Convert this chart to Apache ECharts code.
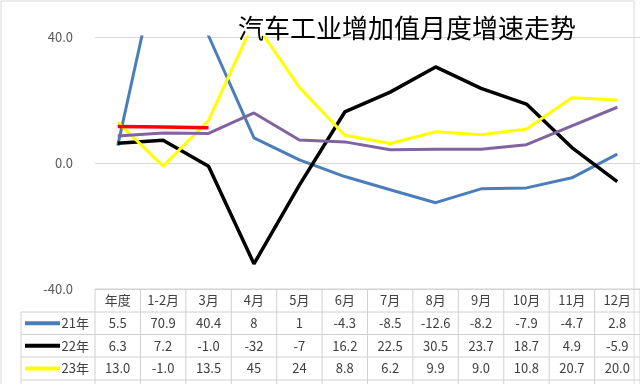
<!DOCTYPE html>
<html><head><meta charset="utf-8">
<script src="https://cdn.jsdelivr.net/npm/echarts@6/dist/echarts.min.js"></script>
<style>html,body{margin:0;padding:0;background:#fff}#c{width:640px;height:384px}</style>
</head><body><div id="c"></div>
<script>
const categories = ['年度','1-2月','3月','4月','5月','6月','7月','8月','9月','10月','11月','12月'];
const rowNames = ['21年','22年','23年'];
const text21 = ['5.5','70.9','40.4','8','1','-4.3','-8.5','-12.6','-8.2','-7.9','-4.7','2.8'];
const text22 = ['6.3','7.2','-1.0','-32','-7','16.2','22.5','30.5','23.7','18.7','4.9','-5.9'];
const text23 = ['13.0','-1.0','13.5','45','24','8.8','6.2','9.9','9.0','10.8','20.7','20.0'];
const y21 = text21.map(Number);
const y22 = text22.map(Number);
const y23 = text23.map(Number);
const purple = [8.6,9.5,9.4,15.9,7.3,6.7,4.2,4.4,4.4,5.8,11.8,17.7];
const red = [11.6,11.4,11.2];
const yTicks = [-40, 0, 40];
const title = '汽车工业增加值月度增速走势';

const colors = ['#4A7EBB','#000000','#FFFF00','#8064A2','#FF0000'];
const FONT = '"Noto Sans CJK SC", "Noto Sans", sans-serif';
const chart = echarts.init(document.getElementById('c'));
function ls(c,w){return {color:c,width:w};}
chart.setOption({
  animation:false,
  title:{text:title,left:233,top:10,textStyle:{fontSize:26,fontWeight:'normal',color:'#000',fontFamily:FONT}},
  grid:{left:95,top:37,width:546,height:252},
  xAxis:{type:'category',data:categories,boundaryGap:true,axisLabel:{show:false},axisTick:{show:false},axisLine:{show:false}},
  yAxis:{type:'value',min:yTicks[0],max:yTicks[2],interval:40,
    axisLabel:{formatter:v=>v.toFixed(1),color:'#595959',fontSize:13,margin:22,fontFamily:FONT},
    axisLine:{show:false},axisTick:{show:false},splitLine:{lineStyle:{color:'#d9d9d9',width:1}}},
  series:[
    {name:'21年',type:'line',data:y21,symbol:'none',lineStyle:ls(colors[0],3),color:colors[0],z:2},
    {name:'22年',type:'line',data:y22,symbol:'none',lineStyle:ls(colors[1],3.5),color:colors[1],z:3},
    {name:'23年',type:'line',data:y23,symbol:'none',lineStyle:ls(colors[2],3),color:colors[2],z:4},
    {name:'p',type:'line',data:purple,symbol:'none',lineStyle:ls(colors[3],3),color:colors[3],z:5},
    {name:'r',type:'line',data:red,symbol:'none',lineStyle:ls(colors[4],3.5),color:colors[4],z:6}
  ]
});
const c0 = chart.convertToPixel({xAxisIndex:0},0);
const c1 = chart.convertToPixel({xAxisIndex:0},1);
const band = c1-c0;
const leftEdge = c0-band/2;
const rightEdge = leftEdge + band*categories.length;
const rowY = [289,312,334.5,357,380];
const labelLeft = 21;
const lc = '#d0d0d0';
const g = [];
g.push({type:'rect',shape:{x:1,y:1,width:633,height:400},style:{fill:'none',stroke:'#d9d9d9',lineWidth:1},silent:true,z:0});
g.push({type:'line',shape:{x1:leftEdge,y1:rowY[0],x2:rightEdge,y2:rowY[0]},style:{stroke:lc,lineWidth:1}});
for(let r=1;r<rowY.length;r++) g.push({type:'line',shape:{x1:labelLeft,y1:rowY[r],x2:rightEdge,y2:rowY[r]},style:{stroke:lc,lineWidth:1}});
for(let i=0;i<=categories.length;i++){
  const x = leftEdge+band*i;
  g.push({type:'line',shape:{x1:x,y1:rowY[0],x2:x,y2:400},style:{stroke:lc,lineWidth:1}});
}
g.push({type:'line',shape:{x1:labelLeft,y1:rowY[1],x2:labelLeft,y2:400},style:{stroke:lc,lineWidth:1}});
const txt = (x,y,s,align)=>({type:'text',x:x,y:y,style:{text:s,fill:'#404040',font:'13px '+FONT,textAlign:align||'center',textVerticalAlign:'middle'}});
categories.forEach((c,i)=>g.push(txt(c0+band*i,(rowY[0]+rowY[1])/2,c)));
const rows=[text21,text22,text23];
rows.forEach((arr,r)=>{
  const yc=(rowY[r+1]+rowY[r+2])/2;
  arr.forEach((s,i)=>g.push(txt(c0+band*i,yc,s)));
  g.push({type:'line',shape:{x1:25,y1:yc,x2:60,y2:yc},style:{stroke:colors[r],lineWidth:4}});
  g.push(txt(89,yc,rowNames[r],'right'));
});
chart.setOption({graphic:g});
</script></body></html>
